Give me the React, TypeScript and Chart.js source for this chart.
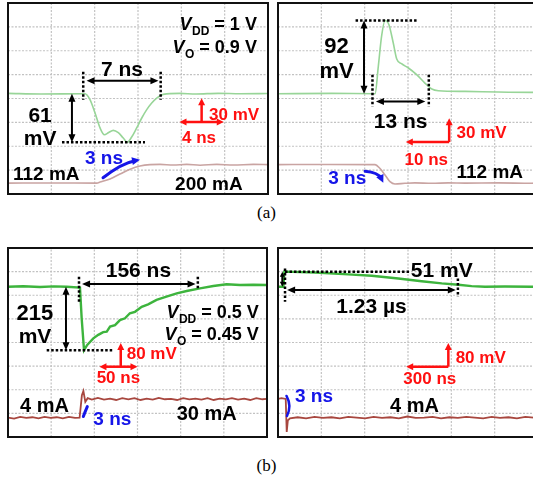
import { useEffect, useRef } from 'react';
import { Chart, registerables } from 'chart.js';

Chart.register(...registerables);

// ---------- (a) left: load step 112 mA -> 200 mA, VDD = 1 V ----------
const aUpTimeV = [0, 3, 6.81, 6.96, 7.41, 7.86, 8.32, 8.71, 9.07, 9.52, 9.97, 10.42, 10.78, 11.18, 11.63, 12.09, 12.54, 12.99, 13.44, 14.04, 15.5, 17, 19, 21, 23.5];
const aUpVoltage = [0.5, -0.3, 0, 0, -7.5, -24, -43, -51.5, -49, -46, -49, -55.7, -61, -54.4, -43, -30.5, -20, -11.7, -5.4, -0.8, 0.4, -0.3, 0.5, 0, 0.3];
const aUpTimeI = [0, 4, 8.02, 8.32, 9.22, 10.12, 11.03, 11.93, 12.84, 13.74, 14.94, 16.15, 17.36, 18.87, 20.37, 22.18, 23.5];
const aUpCurrent = [112, 112.5, 112, 116.7, 132, 155, 178, 193.6, 200, 201, 198, 201, 197, 201, 198, 201, 200];
const aUpDrop = 61; // mV
const aUpSettle = 7; // ns
const aUpSettleStart = 6.8; // ns

// ---------- (a) right: load step 200 mA -> 112 mA ----------
const aDownTimeV = [0, 12.4, 22.4, 23.15, 23.9, 24.7, 25.6, 26.6, 27.4, 28.5, 30.1, 32, 33.9, 35.5, 37, 43.2, 50.8, 58.5, 60];
const aDownVoltage = [0, 0.4, 0, 34.4, 72, 92, 86.7, 63.7, 43.6, 37.7, 32.3, 23.9, 13.4, 5.9, 3.8, 2.9, 2.1, 1.7, 1.7];
const aDownTimeI = [0, 10, 22.4, 23.5, 24.7, 25.85, 27, 29.3, 31.6, 35.5, 39.3, 43.2, 50.8, 58.5, 60];
const aDownCurrent = [200, 200.5, 200, 182.4, 150.5, 118.6, 107.6, 111, 113, 111, 113, 112, 113, 111, 112];
const aDownPeak = 92; // mV
const aDownSettle = 13; // ns
const aDownSettleStart = 21.8; // ns

// ---------- (b) left: load step 4 mA -> 30 mA, VDD = 0.5 V ----------
const bUpTimeV = [0, 20, 42, 60, 77, 94.5, 96.7, 99.8, 104, 112, 118.5, 125, 129.6, 134, 140.5, 147, 153.6, 160, 166.7, 175.5, 184, 195, 208, 221.5, 234.6, 252, 269.5, 287, 304.5, 322, 340];
const bUpVoltage = [0, 1.5, -1, 1, 0, -3, -107, -215, -197, -175, -163, -154, -152, -135, -130, -113, -107, -90, -85, -68, -60, -45, -34, -22.6, -14.6, -5.6, 2.4, 8, 5.6, 6.5, 5.6];
const bUpTimeI = [0, 8, 16, 24, 32, 40, 48, 56, 64, 72, 80, 88, 94, 97, 99, 101.5, 104.6, 110, 118, 126, 134, 142, 150, 158, 166, 174, 182, 190, 198, 206, 214, 222, 230, 238, 246, 254, 262, 270, 278, 286, 294, 302, 310, 318, 326, 334, 340];
const bUpCurrent = [4, 2.5, 5, 3.5, 4.5, 3, 5, 3.5, 4.5, 3, 5, 3.5, 4, 35, 41, 26, 31, 29, 31.5, 29, 30.5, 28.5, 31, 29.5, 31, 28.5, 30.5, 29, 31.5, 29.5, 30, 28.5, 31, 29.5, 30.5, 29, 31, 28.5, 30.5, 29.5, 31, 29, 30.5, 28.5, 31, 29.5, 30];
const bUpDrop = 215; // mV
const bUpSettle = 156; // ns
const bUpSettleStart = 93.2; // ns

// ---------- (b) right: load step 30 mA -> 4 mA ----------
const bDownTimeV = [0, 38, 45, 50, 263, 500, 667, 856, 1022, 1165, 1283, 1378, 1473, 1615, 1805, 1850];
const bDownVoltage = [0, 0, 51, 51, 48.2, 41.7, 37, 27.8, 18.5, 11.1, 6.5, 1.9, 0, 0.5, 0, 0.3];
const bDownTimeI = [0, 25, 55, 62, 70, 85, 140, 200, 260, 320, 380, 440, 500, 560, 620, 680, 740, 800, 860, 920, 980, 1040, 1100, 1160, 1220, 1280, 1340, 1400, 1460, 1520, 1580, 1640, 1700, 1760, 1820, 1850];
const bDownCurrent = [30, 31, 30, -16, 0, 3, 4.5, 3, 5, 3.5, 4.5, 3, 5, 4, 3, 5, 3.5, 4.5, 3, 5.5, 3.5, 4, 5, 3, 4.5, 3.5, 5, 4, 3, 5, 3.5, 4.5, 3, 5, 4, 3.5];
const bDownPeak = 51; // mV
const bDownSettle = 1230; // ns
const bDownSettleStart = 50; // ns

const FONT = '"Liberation Sans", Arial, Helvetica, sans-serif';
const RED = '#ff1010';
const BLUE = '#1515e8';
const BLACK = '#000';
const X_DIVS = 6;
const Y_DIVS = 8;

type Mark =
  | { k: 'text'; x: number; y: number; s: string; size: number; color?: string; align?: CanvasTextAlign; base?: CanvasTextBaseline }
  | { k: 'sub'; x: number; y: number; sym: string; sub: string; rest: string; size: number }
  | { k: 'arrow'; x1: number; y1: number; x2: number; y2: number; color?: string; w?: number; hl?: number; hw?: number; start?: boolean; end?: boolean }
  | { k: 'dots'; x1: number; y1: number; x2: number; y2: number }
  | { k: 'curve'; x1: number; y1: number; cx: number; cy: number; x2: number; y2: number; color: string; w: number; head: boolean };

const pts = (t: number[], v: number[]) => t.map((x, i) => ({ x, y: v[i] }));

function head(ctx: CanvasRenderingContext2D, x: number, y: number, a: number, hl: number, hw: number) {
  ctx.beginPath();
  ctx.moveTo(x, y);
  ctx.lineTo(x - hl * Math.cos(a) - (hw / 2) * Math.sin(a), y - hl * Math.sin(a) + (hw / 2) * Math.cos(a));
  ctx.lineTo(x - hl * Math.cos(a) + (hw / 2) * Math.sin(a), y - hl * Math.sin(a) - (hw / 2) * Math.cos(a));
  ctx.closePath();
  ctx.fill();
}

function drawMarks(chart: Chart, marks: Mark[], xMax: number, yMin: number, yMax: number) {
  const ctx = chart.ctx;
  const xs = chart.scales.x;
  const ys = chart.scales.y;
  const px = (v: number) => xs.getPixelForValue(v);
  const py = (v: number) => ys.getPixelForValue(v);
  const area = chart.chartArea;
  ctx.save();

  // graticule: one line per division, painted beneath the traces
  ctx.globalCompositeOperation = 'destination-over';
  ctx.strokeStyle = '#c2c2c2';
  ctx.lineWidth = 1.2;
  ctx.setLineDash([2, 1.5]);
  for (let k = 1; k < X_DIVS; k++) {
    const gx = px((xMax * k) / X_DIVS);
    ctx.beginPath();
    ctx.moveTo(gx, py(yMin));
    ctx.lineTo(gx, py(yMax));
    ctx.stroke();
  }
  for (let k = 1; k < Y_DIVS; k++) {
    const gy = py(yMin + ((yMax - yMin) * k) / Y_DIVS);
    ctx.beginPath();
    ctx.moveTo(px(0), gy);
    ctx.lineTo(px(xMax), gy);
    ctx.stroke();
  }
  ctx.setLineDash([]);
  ctx.globalCompositeOperation = 'source-over';

  // scope frame
  ctx.strokeStyle = '#111';
  ctx.lineWidth = 2;
  ctx.strokeRect(area.left, area.top, area.right - area.left, area.bottom - area.top);

  for (const m of marks) {
    if (m.k === 'dots') {
      ctx.strokeStyle = BLACK;
      ctx.lineWidth = 2.5;
      ctx.setLineDash([2.5, 2]);
      ctx.beginPath();
      ctx.moveTo(px(m.x1), py(m.y1));
      ctx.lineTo(px(m.x2), py(m.y2));
      ctx.stroke();
      ctx.setLineDash([]);
    } else if (m.k === 'arrow') {
      const color = m.color || BLACK;
      const hl = m.hl ?? 8;
      const hw = m.hw ?? 7;
      const x1 = px(m.x1), y1 = py(m.y1), x2 = px(m.x2), y2 = py(m.y2);
      const a = Math.atan2(y2 - y1, x2 - x1);
      ctx.strokeStyle = color;
      ctx.fillStyle = color;
      ctx.lineWidth = m.w ?? 2;
      const sx = m.start ? x1 + Math.cos(a) * hl * 0.7 : x1;
      const sy = m.start ? y1 + Math.sin(a) * hl * 0.7 : y1;
      const ex = m.end ? x2 - Math.cos(a) * hl * 0.7 : x2;
      const ey = m.end ? y2 - Math.sin(a) * hl * 0.7 : y2;
      ctx.beginPath();
      ctx.moveTo(sx, sy);
      ctx.lineTo(ex, ey);
      ctx.stroke();
      if (m.start) head(ctx, x1, y1, a + Math.PI, hl, hw);
      if (m.end) head(ctx, x2, y2, a, hl, hw);
    } else if (m.k === 'curve') {
      const x1 = px(m.x1), y1 = py(m.y1), cx = px(m.cx), cy = py(m.cy), x2 = px(m.x2), y2 = py(m.y2);
      ctx.strokeStyle = m.color;
      ctx.fillStyle = m.color;
      ctx.lineWidth = m.w;
      ctx.lineCap = 'round';
      const a = Math.atan2(y2 - cy, x2 - cx);
      const ex = m.head ? x2 - Math.cos(a) * 5 : x2;
      const ey = m.head ? y2 - Math.sin(a) * 5 : y2;
      ctx.beginPath();
      ctx.moveTo(x1, y1);
      ctx.quadraticCurveTo(cx, cy, ex, ey);
      ctx.stroke();
      ctx.lineCap = 'butt';
      if (m.head) head(ctx, x2, y2, a, 8, 8);
    } else if (m.k === 'text') {
      ctx.fillStyle = m.color || BLACK;
      ctx.font = `bold ${m.size}px ${FONT}`;
      ctx.textAlign = m.align || 'left';
      ctx.textBaseline = m.base || 'alphabetic';
      ctx.fillText(m.s, px(m.x), py(m.y));
    } else if (m.k === 'sub') {
      const f1 = `italic bold ${m.size}px ${FONT}`;
      const subSize = Math.round(m.size * 0.68);
      const f2 = `bold ${subSize}px ${FONT}`;
      const f3 = `bold ${m.size}px ${FONT}`;
      ctx.textAlign = 'left';
      ctx.textBaseline = 'alphabetic';
      ctx.fillStyle = BLACK;
      ctx.font = f1;
      const w1 = ctx.measureText(m.sym).width;
      ctx.font = f2;
      const w2 = ctx.measureText(m.sub).width;
      ctx.font = f3;
      const w3 = ctx.measureText(m.rest).width;
      const right = px(m.x);
      const base = py(m.y);
      const x0 = right - (w1 + w2 + w3);
      ctx.font = f1;
      ctx.fillText(m.sym, x0, base);
      ctx.font = f2;
      ctx.fillText(m.sub, x0 + w1 + 0.5, base + m.size * 0.28);
      ctx.font = f3;
      ctx.fillText(m.rest, x0 + w1 + w2 + 0.5, base);
    }
  }
  ctx.restore();
}

type PanelSpec = {
  left: number;
  top: number;
  width: number;
  height: number;
  xMax: number;
  yMin: number;
  yMax: number;
  iMin: number;
  iMax: number;
  faint: boolean;
  v: { x: number; y: number }[];
  i: { x: number; y: number }[];
  marks: Mark[];
};

const PAD = 2;

function ScopePanel({ spec }: { spec: PanelSpec }) {
  const ref = useRef<HTMLCanvasElement | null>(null);
  useEffect(() => {
    const canvas = ref.current;
    if (!canvas) return;
    const chart = new Chart(canvas, {
      type: 'line',
      data: {
        datasets: [
          {
            data: spec.i,
            yAxisID: 'y2',
            borderColor: spec.faint ? '#c9a4a2' : '#a8473f',
            borderWidth: spec.faint ? 1.6 : 1.8,
            pointRadius: 0,
            cubicInterpolationMode: spec.faint ? 'monotone' : 'default',
            tension: 0,
          },
          {
            data: spec.v,
            yAxisID: 'y',
            borderColor: spec.faint ? '#98d598' : '#3db43d',
            borderWidth: spec.faint ? 1.6 : 2.4,
            pointRadius: 0,
            cubicInterpolationMode: spec.faint ? 'monotone' : 'default',
            tension: 0,
          },
        ],
      },
      options: {
        animation: false,
        responsive: false,
        events: [],
        layout: { padding: PAD },
        plugins: { legend: { display: false }, tooltip: { enabled: false } },
        scales: {
          x: {
            type: 'linear',
            min: 0,
            max: spec.xMax,
            ticks: { display: false },
            grid: { display: false, drawTicks: false },
            border: { display: false },
          },
          y: {
            type: 'linear',
            min: spec.yMin,
            max: spec.yMax,
            ticks: { display: false },
            grid: { display: false, drawTicks: false },
            border: { display: false },
          },
          y2: {
            type: 'linear',
            display: false,
            min: spec.iMin,
            max: spec.iMax,
          },
        },
      },
      plugins: [
        {
          id: 'scopeMarks',
          afterDraw: (c: Chart) => drawMarks(c, spec.marks, spec.xMax, spec.yMin, spec.yMax),
        },
      ],
    } as any);
    return () => chart.destroy();
  }, [spec]);
  return (
    <canvas
      ref={ref}
      width={spec.width + PAD * 2}
      height={spec.height + PAD * 2}
      style={{
        position: 'absolute',
        left: spec.left - PAD,
        top: spec.top - PAD,
        width: spec.width + PAD * 2,
        height: spec.height + PAD * 2,
      }}
    />
  );
}

const aUpEnd = aUpSettleStart + aUpSettle;
const aDownEnd = aDownSettleStart + aDownSettle;
const bUpEnd = bUpSettleStart + bUpSettle;
const bDownEnd = bDownSettleStart + bDownSettle;

const panels: PanelSpec[] = [
  {
    left: 8, top: 3, width: 260, height: 191,
    xMax: 23.5, yMin: -126, yMax: 114, iMin: 60, iMax: 970, faint: true,
    v: pts(aUpTimeV, aUpVoltage),
    i: pts(aUpTimeI, aUpCurrent),
    marks: [
      { k: 'sub', x: 22.45, y: 79.5, sym: 'V', sub: 'DD', rest: ' = 1 V', size: 18 },
      { k: 'sub', x: 22.45, y: 51.1, sym: 'V', sub: 'O', rest: ' = 0.9 V', size: 18 },
      { k: 'dots', x1: aUpSettleStart, y1: 27.6, x2: aUpSettleStart, y2: -7.5 },
      { k: 'dots', x1: aUpEnd, y1: 27.6, x2: aUpEnd, y2: -7.5 },
      { k: 'arrow', x1: aUpSettleStart + 0.3, y1: 16.3, x2: aUpEnd - 0.2, y2: 16.3, start: true, end: true },
      { k: 'text', x: (aUpSettleStart + aUpEnd) / 2, y: 22.6, s: `${aUpSettle} ns`, size: 21, align: 'center' },
      { k: 'arrow', x1: 5.78, y1: 0, x2: 5.78, y2: -aUpDrop, start: true, end: true },
      { k: 'dots', x1: 4.88, y1: -aUpDrop, x2: 12.38, y2: -aUpDrop },
      { k: 'text', x: 2.9, y: -35, s: `${aUpDrop}`, size: 21, align: 'center' },
      { k: 'text', x: 2.9, y: -64, s: 'mV', size: 21, align: 'center' },
      { k: 'arrow', x1: 15.5, y1: -35.6, x2: 19.5, y2: -35.6, color: RED, w: 2.5, hl: 7, hw: 7, start: true, end: true },
      { k: 'arrow', x1: 17.5, y1: -35.6, x2: 17.5, y2: -5.6, color: RED, w: 2.5, hl: 7, hw: 7, end: true },
      { k: 'text', x: 18.17, y: -32.7, s: '30 mV', size: 17, color: RED },
      { k: 'text', x: 15.73, y: -61.6, s: '4 ns', size: 17, color: RED },
      { k: 'text', x: 6.96, y: -88, s: '3 ns', size: 19, color: BLUE },
      { k: 'curve', x1: 8.59, y1: -105.6, cx: 10.28, cy: -87.1, x2: 11.93, y2: -83, color: BLUE, w: 3, head: true },
      { k: 'text', x: 0.45, y: -108, s: '112 mA', size: 19 },
      { k: 'text', x: 15.1, y: -120.6, s: '200 mA', size: 19 },
    ],
  },
  {
    left: 278, top: 3, width: 260, height: 191,
    xMax: 60, yMin: -126, yMax: 114, iMin: 60, iMax: 970, faint: true,
    v: pts(aDownTimeV, aDownVoltage),
    i: pts(aDownTimeI, aDownCurrent),
    marks: [
      { k: 'dots', x1: 17.9, y1: aDownPeak, x2: 32, y2: aDownPeak },
      { k: 'arrow', x1: 19.85, y1: 0, x2: 19.85, y2: aDownPeak, start: true, end: true },
      { k: 'text', x: 13.5, y: 51.1, s: `${aDownPeak}`, size: 22, align: 'center' },
      { k: 'text', x: 13.5, y: 19.7, s: 'mV', size: 22, align: 'center' },
      { k: 'dots', x1: aDownSettleStart, y1: 23.9, x2: aDownSettleStart, y2: -16 },
      { k: 'dots', x1: aDownEnd, y1: 23.9, x2: aDownEnd, y2: -16 },
      { k: 'arrow', x1: aDownSettleStart + 0.8, y1: -9.7, x2: aDownEnd - 0.8, y2: -9.7, start: true, end: true },
      { k: 'text', x: (aDownSettleStart + aDownEnd) / 2, y: -43.1, s: `${aDownSettle} ns`, size: 21, align: 'center' },
      { k: 'arrow', x1: 29.5, y1: -60.7, x2: 39.5, y2: -60.7, color: RED, w: 2.5, hl: 7, hw: 7, start: true },
      { k: 'arrow', x1: 39.5, y1: -60.7, x2: 39.5, y2: -30.7, color: RED, w: 2.5, hl: 7, hw: 7, end: true },
      { k: 'text', x: 41.2, y: -55.7, s: '30 mV', size: 17, color: RED },
      { k: 'text', x: 29.2, y: -89.7, s: '10 ns', size: 17, color: RED },
      { k: 'text', x: 41.2, y: -106.3, s: '112 mA', size: 19 },
      { k: 'text', x: 11.6, y: -114, s: '3 ns', size: 19, color: BLUE },
      { k: 'curve', x1: 20.1, y1: -97.4, cx: 23.15, cy: -98.9, x2: 24.3, y2: -112, color: BLUE, w: 3, head: true },
    ],
  },
  {
    left: 8, top: 248, width: 259, height: 189,
    xMax: 340, yMin: -509, yMax: 131, iMin: -23, iMax: 240, faint: false,
    v: pts(bUpTimeV, bUpVoltage),
    i: pts(bUpTimeI, bUpCurrent),
    marks: [
      { k: 'dots', x1: bUpSettleStart, y1: 34, x2: bUpSettleStart, y2: -56 },
      { k: 'dots', x1: bUpEnd, y1: 34, x2: bUpEnd, y2: -11 },
      { k: 'arrow', x1: bUpSettleStart + 4, y1: 9.1, x2: bUpEnd - 3, y2: 9.1, start: true, end: true },
      { k: 'text', x: (bUpSettleStart + bUpEnd) / 2, y: 33.9, s: `${bUpSettle} ns`, size: 21, align: 'center' },
      { k: 'arrow', x1: 76.1, y1: 0, x2: 76.1, y2: -bUpDrop, start: true, end: true },
      { k: 'dots', x1: 50.8, y1: -bUpDrop, x2: 138.3, y2: -bUpDrop },
      { k: 'text', x: 35.4, y: -112.8, s: `${bUpDrop}`, size: 22, align: 'center' },
      { k: 'text', x: 35.4, y: -191.8, s: 'mV', size: 21, align: 'center' },
      { k: 'sub', x: 328.6, y: -107, sym: 'V', sub: 'DD', rest: ' = 0.5 V', size: 18 },
      { k: 'sub', x: 328.6, y: -180.5, sym: 'V', sub: 'O', rest: ' = 0.45 V', size: 18 },
      { k: 'arrow', x1: 120, y1: -271, x2: 170, y2: -271, color: RED, w: 2.5, hl: 7, hw: 7, start: true, end: true },
      { k: 'arrow', x1: 148, y1: -271, x2: 148, y2: -191, color: RED, w: 2.5, hl: 7, hw: 7, end: true },
      { k: 'text', x: 155.8, y: -244.8, s: '80 mV', size: 17, color: RED },
      { k: 'text', x: 116.4, y: -327, s: '50 ns', size: 17, color: RED },
      { k: 'text', x: 15.75, y: -423, s: '4 mA', size: 20 },
      { k: 'text', x: 221.5, y: -451, s: '30 mA', size: 20 },
      { k: 'text', x: 112, y: -468, s: '3 ns', size: 19, color: BLUE },
      { k: 'curve', x1: 98.9, y1: -439.8, cx: 101.2, cy: -423, x2: 104.1, y2: -406, color: BLUE, w: 3, head: false },
    ],
  },
  {
    left: 278, top: 248, width: 260, height: 189,
    xMax: 1850, yMin: -509, yMax: 131, iMin: -23, iMax: 240, faint: false,
    v: pts(bDownTimeV, bDownVoltage),
    i: pts(bDownTimeI, bDownCurrent),
    marks: [
      { k: 'dots', x1: bDownSettleStart, y1: bDownPeak, x2: 939, y2: bDownPeak },
      { k: 'text', x: 945, y: bDownPeak, s: `${bDownPeak} mV`, size: 21, base: 'middle' },
      { k: 'arrow', x1: 30.6, y1: 0, x2: 30.6, y2: bDownPeak, start: true, end: true, hl: 5, hw: 5 },
      { k: 'dots', x1: bDownSettleStart, y1: 62, x2: bDownSettleStart, y2: -51 },
      { k: 'dots', x1: bDownEnd, y1: 28, x2: bDownEnd, y2: -34 },
      { k: 'arrow', x1: bDownSettleStart + 15, y1: -11, x2: bDownEnd - 15, y2: -11, start: true, end: true },
      { k: 'text', x: (bDownSettleStart + bDownEnd) / 2, y: -90, s: `${bDownSettle / 1000} µs`, size: 21, align: 'center' },
      { k: 'arrow', x1: 912, y1: -271, x2: 1212, y2: -271, color: RED, w: 2.5, hl: 7, hw: 7, start: true },
      { k: 'arrow', x1: 1212, y1: -271, x2: 1212, y2: -191, color: RED, w: 2.5, hl: 7, hw: 7, end: true },
      { k: 'text', x: 1264, y: -259, s: '80 mV', size: 17, color: RED },
      { k: 'text', x: 892, y: -329, s: '300 ns', size: 17, color: RED },
      { k: 'text', x: 797, y: -423, s: '4 mA', size: 20 },
      { k: 'text', x: 121, y: -389, s: '3 ns', size: 19, color: BLUE },
      { k: 'curve', x1: 60.5, y1: -370, cx: 99.6, cy: -404, x2: 64, y2: -437.8, color: BLUE, w: 2.5, head: false },
    ],
  },
];

const captionStyle = {
  position: 'absolute' as const,
  left: 0,
  width: 533,
  textAlign: 'center' as const,
  font: '17px "Liberation Serif", "Times New Roman", serif',
  color: '#000',
};

export default function App() {
  return (
    <div
      style={{
        position: 'fixed',
        left: 0,
        top: 0,
        width: 533,
        height: 484,
        overflow: 'hidden',
        background: '#fff',
      }}
    >
      {panels.map((p, idx) => (
        <ScopePanel key={idx} spec={p} />
      ))}
      <div style={{ ...captionStyle, top: 203 }}>(a)</div>
      <div style={{ ...captionStyle, top: 456 }}>(b)</div>
    </div>
  );
}
